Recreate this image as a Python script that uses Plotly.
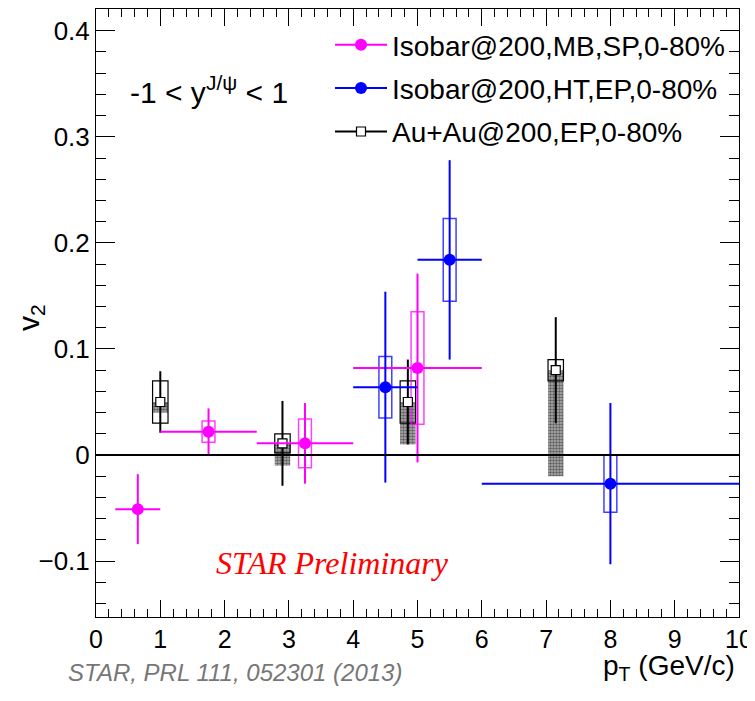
import plotly.graph_objects as go

# ---------------- data ----------------
# Isobar@200, MB, SP, 0-80%
mb_pt = [0.65, 1.75, 3.25, 5.0]
mb_pt_hw = [0.35, 0.75, 0.75, 1.0]
mb_v2 = [-0.051, 0.022, 0.011, 0.082]
mb_stat = [0.033, 0.022, 0.038, 0.089]
mb_sys = [None, 0.010, 0.023, 0.053]

# Isobar@200, HT, EP, 0-80%
ht_pt = [4.5, 5.5, 8.0]
ht_pt_hw = [0.5, 0.5, 2.0]
ht_v2 = [0.064, 0.184, -0.027]
ht_stat = [0.090, 0.094, 0.076]
ht_sys = [0.029, 0.039, 0.027]

# Au+Au@200, EP, 0-80%  (STAR, PRL 111, 052301)
au_pt = [1.0, 2.9, 4.85, 7.15]
au_v2 = [0.050, 0.011, 0.050, 0.080]
au_stat = [0.029, 0.040, 0.040, 0.050]
au_sys = [0.020, 0.009, 0.020, 0.010]
au_nonflow = [0.010, 0.021, 0.040, 0.100]

x_ticks = [0, 1, 2, 3, 4, 5, 6, 7, 8, 9, 10]
y_ticks = [-0.1, 0.0, 0.1, 0.2, 0.3, 0.4]

MAG = "#ff00ff"
BLU = "#0000ff"
FONT = "Liberation Sans, Arial, sans-serif"

fig = go.Figure()

# non-flow hatched bands (Au+Au)
fig.add_trace(go.Bar(
    x=au_pt, base=[v - n for v, n in zip(au_v2, au_nonflow)], y=au_nonflow,
    width=0.24, marker=dict(color="rgba(255,255,255,0)",
                            line=dict(width=0),
                            pattern=dict(shape=".", fgcolor="#111111", bgcolor="rgba(150,150,150,0.75)",
                                         size=3, solidity=0.55)),
    showlegend=False, hoverinfo="skip"))

# systematic boxes
def sys_box(xs, vs, ss, w, col, lw):
    base = [None if s is None else v - s for v, s in zip(vs, ss)]
    h = [None if s is None else 2 * s for s in ss]
    return go.Bar(x=xs, base=base, y=h, width=w,
                  marker=dict(color="rgba(0,0,0,0)", line=dict(color=col, width=lw)),
                  showlegend=False, hoverinfo="skip")

fig.add_trace(sys_box(au_pt, au_v2, au_sys, 0.24, "black", 1.2))
fig.add_trace(sys_box(mb_pt, mb_v2, mb_sys, 0.2, "rgba(255,0,255,0.75)", 1.5))
fig.add_trace(sys_box(ht_pt, ht_v2, ht_sys, 0.2, "rgba(0,0,255,0.75)", 1.5))

# zero line
fig.add_shape(type="line", xref="x", yref="y", x0=0, x1=10, y0=0, y1=0,
              line=dict(color="black", width=2))

# data points
fig.add_trace(go.Scatter(
    x=au_pt, y=au_v2, mode="markers",
    marker=dict(symbol="square", size=9, color="white", line=dict(color="black", width=1.2)),
    error_y=dict(type="data", array=au_stat, color="black", thickness=2, width=0),
    showlegend=False, hoverinfo="skip"))
fig.add_trace(go.Scatter(
    x=mb_pt, y=mb_v2, mode="markers",
    marker=dict(symbol="circle", size=12, color=MAG),
    error_y=dict(type="data", array=mb_stat, color=MAG, thickness=2, width=0),
    error_x=dict(type="data", array=mb_pt_hw, color=MAG, thickness=2, width=0),
    showlegend=False, hoverinfo="skip"))
fig.add_trace(go.Scatter(
    x=ht_pt, y=ht_v2, mode="markers",
    marker=dict(symbol="circle", size=12, color=BLU),
    error_y=dict(type="data", array=ht_stat, color=BLU, thickness=2, width=0),
    error_x=dict(type="data", array=ht_pt_hw, color=BLU, thickness=2, width=0),
    showlegend=False, hoverinfo="skip"))

# legend entries
fig.add_trace(go.Scatter(x=[None], y=[None], mode="lines+markers", name="Isobar@200,MB,SP,0-80%",
                         legendgroup="g1",
                         line=dict(color=MAG, width=2), marker=dict(color=MAG, size=12)))
fig.add_trace(go.Scatter(x=[None], y=[None], mode="lines+markers", name="Isobar@200,HT,EP,0-80%",
                         legendgroup="g2",
                         line=dict(color=BLU, width=2), marker=dict(color=BLU, size=12)))
fig.add_trace(go.Scatter(x=[None], y=[None], mode="lines+markers", name="Au+Au@200,EP,0-80%",
                         legendgroup="g3",
                         line=dict(color="black", width=2),
                         marker=dict(symbol="square", color="white", size=9,
                                     line=dict(color="black", width=1.2))))

# page has an 8px body margin; figure is shrunk so it fits the 755x701 window
OFF = 8
W, H = 755 - OFF, 701 - OFF
L, R, T, B = 96 - OFF, 16, 9 - OFF, 84
pw, ph = W - L - R, H - T - B

def px(x):  # page pixel -> paper x
    return (x - OFF - L) / pw

def py(y):  # page pixel -> paper y
    return (H - B - (y - OFF)) / ph

fig.update_layout(
    width=W, height=H,
    margin=dict(l=L, r=R, t=T, b=B, autoexpand=False),
    paper_bgcolor="white", plot_bgcolor="white",
    barmode="overlay",
    font=dict(family=FONT, color="black"),
    showlegend=True,
    legend=dict(x=px(330), y=py(20), xanchor="left", yanchor="top",
                bgcolor="rgba(0,0,0,0)", font=dict(size=28, family=FONT),
                itemwidth=52, traceorder="grouped", tracegroupgap=4),
    xaxis=dict(range=[0, 10], tickvals=x_ticks, ticks="inside", ticklen=17, tickwidth=1,
               tickcolor="black", showline=True, linecolor="black", linewidth=1,
               mirror="allticks", showgrid=False, zeroline=False, automargin=False,
               tickfont=dict(size=25, family=FONT),
               minor=dict(dtick=0.2, ticks="inside", ticklen=8, tickcolor="black", showgrid=False)),
    yaxis=dict(range=[-0.1527, 0.4205], tickvals=y_ticks, ticks="inside", ticklen=19, tickwidth=1,
               tickcolor="black", showline=True, linecolor="black", linewidth=1,
               mirror="allticks", showgrid=False, zeroline=False, automargin=False,
               tickfont=dict(size=26, family=FONT),
               minor=dict(dtick=0.02, ticks="inside", ticklen=10, tickcolor="black", showgrid=False)),
)

annots = [
    dict(text="v<sub>2</sub>", x=px(30), y=py(318), textangle=-90, font=dict(size=30)),
    dict(text="p<sub>T</sub> (GeV/c)", x=px(737), y=py(667), xanchor="right", font=dict(size=28)),
    dict(text="-1 < y<sup>J/ψ</sup> < 1", x=px(128), y=py(90), xanchor="left", font=dict(size=30)),
    dict(text="<i>STAR Preliminary</i>", x=px(332), y=py(563),
         font=dict(size=32, family="Liberation Serif, Times New Roman, serif", color="red")),
    dict(text="<i>STAR, PRL 111, 052301 (2013)</i>", x=px(66), y=py(672), xanchor="left",
         font=dict(size=24, color="#777777")),
]
for a in annots:
    a.update(xref="paper", yref="paper", showarrow=False, yanchor="middle")
    a.setdefault("xanchor", "center")
    fig.add_annotation(**a)

fig.write_html("out.html")
